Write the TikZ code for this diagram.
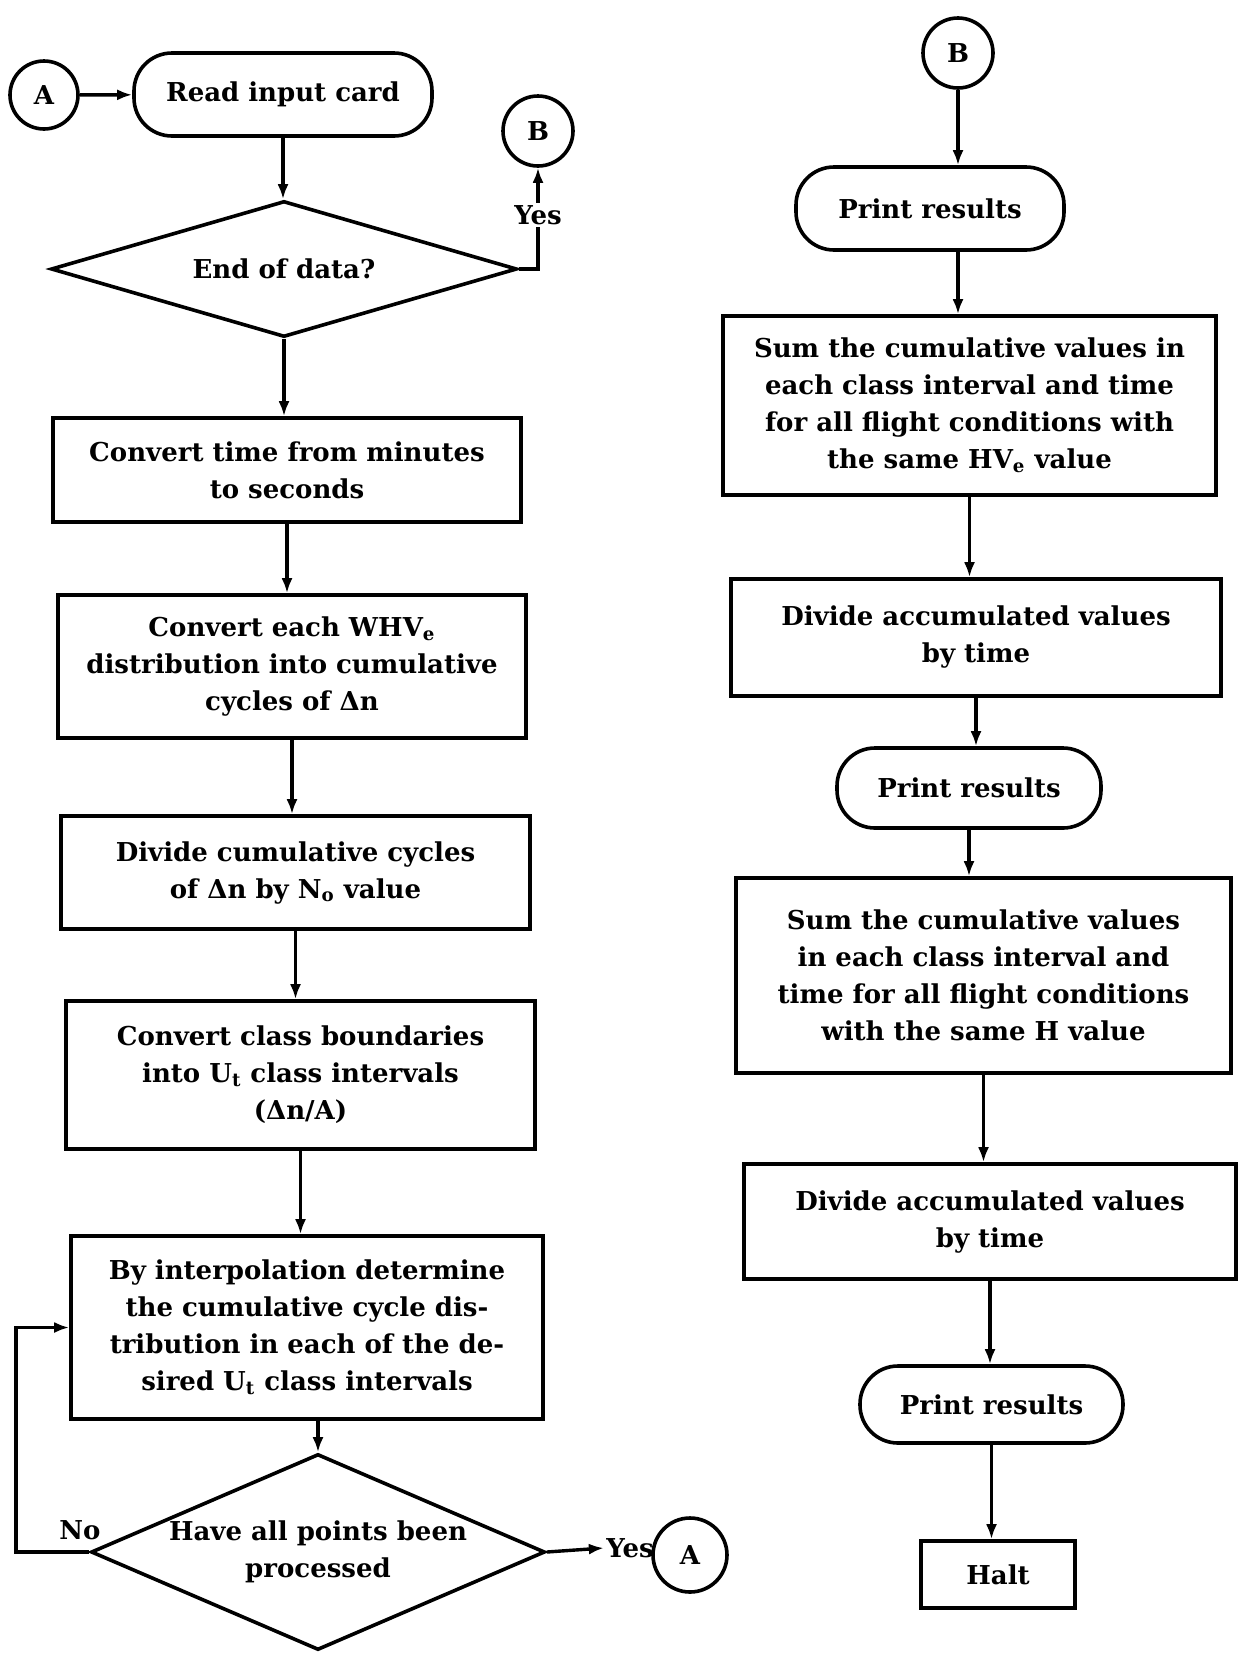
\documentclass[tikz,border=0pt]{standalone}
\usepackage{fontspec}
\setmainfont{DejaVu Serif}
\usetikzlibrary{arrows.meta,positioning,shapes}
\newcommand{\flowfont}{\fontsize{13}{18.5}\selectfont\bfseries}
\tikzset{
  procbox/.style={draw=black,fill=white,line width=1.8pt,
                  inner sep=0pt,align=center,font=\flowfont},
  termbox/.style={draw=black,fill=white,line width=1.8pt,
                  rounded corners=19pt,inner sep=0pt,align=center,font=\flowfont},
  decision/.style={draw=black,fill=white,line width=1.8pt,diamond,
                   aspect=2.3,inner sep=-3pt,align=center,font=\flowfont},
  joint/.style={draw=black,fill=white,line width=1.8pt,circle,
                inner sep=0pt,font=\flowfont},
  tag/.style={inner sep=1pt,fill=white,font=\flowfont},
  flowarr/.style={-{Latex[length=7.5pt,width=5.5pt]},line width=1.7pt}
}

\begin{document}
\begin{tikzpicture}[x=0.5pt,y=-0.5pt]
  \useasboundingbox (0,0) rectangle (1238,1660);
  % left column
  \node[joint,minimum size=34pt] (A1) at (44,95) {A};
  \node[termbox,minimum width=149pt,minimum height=41.5pt] (read) at (283,94.5)
    {Read input card};
  \node[joint,minimum size=35pt] (B1) at (538,131) {B};
  \node[decision,minimum width=233pt,minimum height=68pt,aspect=3.4] (endq) at (284,269)
    {End of data?};
  \node[tag] (yes1) at (538,215) {Yes};
  \node[procbox,minimum width=234pt,minimum height=52pt] (time) at (287,470)
    {Convert time from minutes\\to seconds};
  \node[procbox,minimum width=234pt,minimum height=71.5pt] (whve) at (292,666.5)
    {Convert each WHV\textsubscript{e}\\distribution into cumulative\\cycles of Δn};
  \node[procbox,minimum width=234.5pt,minimum height=56.5pt] (divno) at (295.5,872.5)
    {Divide cumulative cycles\\of Δn by N\textsubscript{o} value};
  \node[procbox,minimum width=234.5pt,minimum height=74pt] (bound) at (300.5,1075)
    {Convert class boundaries\\into U\textsubscript{t} class intervals\\(Δn/A)};
  \node[procbox,minimum width=236pt,minimum height=91.5pt] (interp) at (307,1327.5)
    {By interpolation determine\\the cumulative cycle dis-\\tribution in each of the de-\\sired U\textsubscript{t} class intervals};
  \node[decision,minimum width=227pt,minimum height=98pt] (allq) at (318,1552)
    {Have all points been\\processed};
  \node[tag] (no1) at (80,1530) {No};
  \node[tag] (yes2) at (630,1548) {Yes};
  \node[joint,minimum size=37pt] (A2) at (690,1555) {A};
  \coordinate (turn) at (16,1440);

  \draw[flowarr] (A1) -- (read);
  \draw[flowarr] (read) -- (read |- endq.north);
  \draw[line width=1.7pt] (endq.east) -| (yes1.south);
  \draw[flowarr] (yes1.north) -- (B1.south);
  \draw[flowarr] (endq) -- (endq |- time.north);
  \draw[flowarr] (time) -- (time |- whve.north);
  \draw[flowarr] (whve) -- (whve |- divno.north);
  \draw[flowarr] (divno) -- (divno |- bound.north);
  \draw[flowarr] (bound) -- (bound |- interp.north);
  \draw[flowarr] (interp.south -| allq.north) -- (allq.north);
  \draw[flowarr] (allq.west) -| (turn) |- (interp.west);
  \draw[flowarr] (allq.east) -- (yes2.west);

  % right column
  \node[joint,minimum size=35pt] (B2) at (958,53) {B};
  \node[termbox,minimum width=134pt,minimum height=41.5pt] (pr1) at (930,208.5)
    {Print results};
  \node[procbox,minimum width=246.5pt,minimum height=89.5pt] (sum1) at (969.5,405.5)
    {Sum the cumulative values in\\each class interval and time\\for all flight conditions with\\the same HV\textsubscript{e} value};
  \node[procbox,minimum width=245pt,minimum height=58.5pt] (div1) at (976,637.5)
    {Divide accumulated values\\by time};
  \node[termbox,minimum width=132pt,minimum height=40pt] (pr2) at (969,788)
    {Print results};
  \node[procbox,minimum width=247.5pt,minimum height=97.5pt] (sum2) at (983.5,975.5)
    {Sum the cumulative values\\in each class interval and\\time for all flight conditions\\with the same H value};
  \node[procbox,minimum width=246pt,minimum height=57.5pt] (div2) at (990,1221.5)
    {Divide accumulated values\\by time};
  \node[termbox,minimum width=131.5pt,minimum height=38.5pt] (pr3) at (991.5,1404.5)
    {Print results};
  \node[procbox,minimum width=77pt,minimum height=33.5pt] (halt) at (998,1574.5)
    {Halt};

  \draw[flowarr] (B2) -- (B2 |- pr1.north);
  \draw[flowarr] (B2 |- pr1.south) -- (B2 |- sum1.north);
  \foreach \a/\b in {sum1/div1,div1/pr2,pr2/sum2,sum2/div2,div2/pr3,pr3/halt}
    \draw[flowarr] (\a) -- (\a |- \b.north);
\end{tikzpicture}
\end{document}
